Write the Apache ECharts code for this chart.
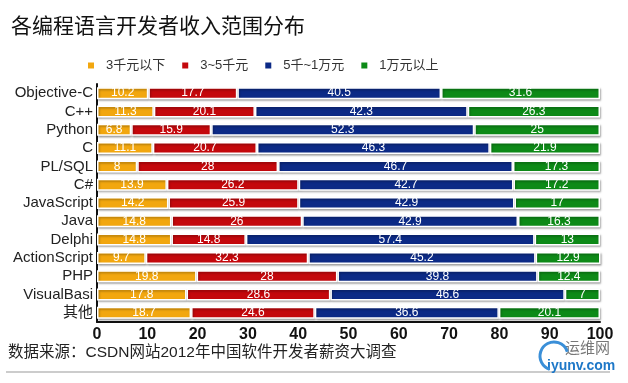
<!DOCTYPE html>
<html><head><meta charset="utf-8">
<script src="https://cdn.jsdelivr.net/npm/echarts@6/dist/echarts.min.js"></script>
<style>html,body{margin:0;padding:0;background:#fff}#c{width:628px;height:383px}</style>
</head><body><div id="c"></div>
<script>
const categories = ['Objective-C','C++','Python','C','PL/SQL','C#','JavaScript','Java','Delphi','ActionScript','PHP','VisualBasi','其他'];
const seriesNames = ['3千元以下','3~5千元','5千~1万元','1万元以上'];
const below3k = [10.2,11.3,6.8,11.1,8,13.9,14.2,14.8,14.8,9.7,19.8,17.8,18.7];
const from3to5k = [17.7,20.1,15.9,20.7,28,26.2,25.9,26,14.8,32.3,28,28.6,24.6];
const from5kto10k = [40.5,42.3,52.3,46.3,46.7,42.7,42.9,42.9,57.4,45.2,39.8,46.6,36.6];
const above10k = [31.6,26.3,25,21.9,17.3,17.2,17,16.3,13,12.9,12.4,7,20.1];
const xTicks = [0,10,20,30,40,50,60,70,80,90,100];
const colors = ['#F2A70F','#C4080C','#0C2A86','#0D8A17'];

const chart = echarts.init(document.getElementById('c'), null, {renderer:'canvas'});
const values = [below3k, from3to5k, from5kto10k, above10k];
chart.setOption({
  animation:false,
  color:colors,
  title:{text:'各编程语言开发者收入范围分布',left:6,top:10,
    textStyle:{fontFamily:'Noto Sans CJK SC',fontSize:21,fontWeight:'normal',color:'#111'}},
  legend:{top:54,left:81,itemWidth:8,itemHeight:8,itemGap:15,icon:'rect',
    textStyle:{fontFamily:'Liberation Sans, Noto Sans CJK SC',fontSize:13,color:'#333',padding:[0,0,0,6]},
    data:seriesNames},
  grid:{left:97,right:28,top:84,bottom:61,containLabel:false},
  xAxis:{type:'value',min:0,max:100,interval:10,
    axisLine:{show:true,lineStyle:{color:'#111',width:2}},
    axisTick:{show:false},splitLine:{show:false},
    axisLabel:{fontFamily:'Liberation Sans',fontWeight:'bold',fontSize:16,color:'#111',margin:5,
      formatter:v=>xTicks.includes(v)?String(v):''}},
  yAxis:{type:'category',data:categories,inverse:true,
    axisLine:{show:true,lineStyle:{color:'#111',width:2}},
    axisTick:{show:false},
    axisLabel:{interval:0,fontFamily:'Liberation Sans, Noto Sans CJK SC',fontSize:15,color:'#222',margin:4}},
  series:values.map((d,i)=>({
    name:seriesNames[i],type:'bar',stack:'total',data:d,barWidth:12,
    itemStyle:{borderColor:'#fff',borderWidth:1.5,shadowColor:'rgba(0,0,0,0.3)',shadowBlur:2,shadowOffsetX:1,shadowOffsetY:1.5},
    label:{show:true,position:'inside',color:'#fff',fontFamily:'Liberation Sans',fontSize:12}
  })),
  graphic:[
    {type:'text',left:8,top:345,style:{text:'数据来源：CSDN网站2012年中国软件开发者薪资大调查',
      font:'15.5px "Liberation Sans", "Noto Sans CJK SC"',fill:'#222'}},
    {type:'line',shape:{x1:6,y1:372,x2:610,y2:372},style:{stroke:'#999',lineWidth:1}},
    {type:'text',left:565,top:340,style:{text:'运维网',font:'15px "Noto Sans CJK SC"',fill:'#777'}},
    {type:'text',left:547,top:359,style:{text:'iyunv.com',font:'bold 14px "Liberation Sans"',fill:'#1E78C8'}},
    {type:'arc',shape:{cx:554,cy:356,r:14,startAngle:Math.PI*0.6,endAngle:Math.PI*1.9},style:{stroke:'#3A8FD8',lineWidth:3,fill:null}}
  ]
});
</script></body></html>
